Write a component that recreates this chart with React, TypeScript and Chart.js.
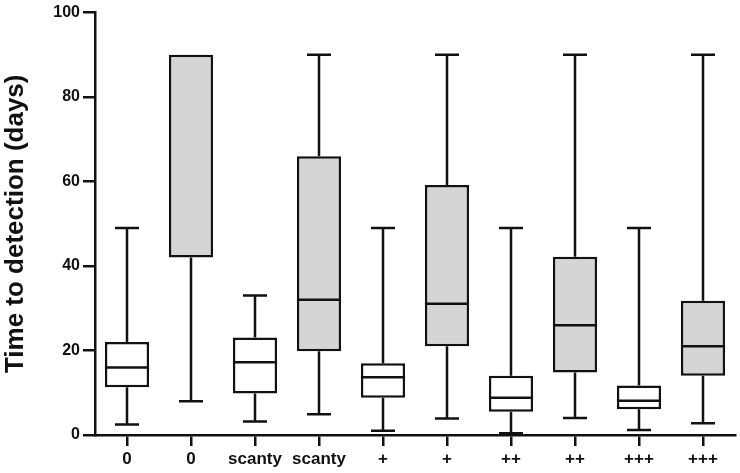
import React, { useEffect, useRef } from "react";
import { Chart, registerables } from "chart.js";

Chart.register(...registerables);

const categories = ["0", "0", "scanty", "scanty", "+", "+", "++", "++", "+++", "+++"];
const whiskerMin = [2.5, 8, 3.2, 4.9, 1.0, 3.9, 0.4, 4.0, 1.2, 2.8];
const q1Values = [11.3, 42, 9.8, 19.8, 8.8, 21, 5.5, 14.8, 6.1, 14.0];
const medianValues = [16, 90, 17.2, 32, 13.7, 31.1, 8.8, 26, 8.1, 21];
const q3Values = [22, 90, 23.1, 66, 17, 59.2, 14, 42.2, 11.7, 31.8];
const whiskerMax = [49, 90, 33, 90, 49, 90, 49, 90, 49, 90];
const boxFill = ["#ffffff", "#d5d5d5", "#ffffff", "#d5d5d5", "#ffffff", "#d5d5d5", "#ffffff", "#d5d5d5", "#ffffff", "#d5d5d5"];
const yTicks = [0, 20, 40, 60, 80, 100];

const FONT = "'Liberation Sans', Arial, sans-serif";
const LW = 2.5;

const boxPlugin = {
  id: "boxWhiskers",
  beforeDatasetsDraw(chart: any) {
    const { ctx, scales } = chart;
    const y = scales.y;
    const meta = chart.getDatasetMeta(0);
    ctx.save();
    ctx.strokeStyle = "#111";
    ctx.lineWidth = LW;
    meta.data.forEach((bar: any, i: number) => {
      const cx = Math.round(bar.x);
      const half = 12;
      const yMax = y.getPixelForValue(whiskerMax[i]);
      const yQ3 = y.getPixelForValue(q3Values[i]);
      const yQ1 = y.getPixelForValue(q1Values[i]);
      const yMin = y.getPixelForValue(whiskerMin[i]);
      ctx.beginPath();
      ctx.moveTo(cx, yQ3);
      ctx.lineTo(cx, yMax);
      ctx.moveTo(cx, yQ1);
      ctx.lineTo(cx, yMin);
      if (whiskerMax[i] > q3Values[i]) {
        ctx.moveTo(cx - half, yMax);
        ctx.lineTo(cx + half, yMax);
      }
      ctx.moveTo(cx - half, yMin);
      ctx.lineTo(cx + half, yMin);
      ctx.stroke();
    });
    ctx.restore();
  },
  afterDatasetsDraw(chart: any) {
    const { ctx, scales } = chart;
    const y = scales.y;
    const meta = chart.getDatasetMeta(0);
    ctx.save();
    ctx.strokeStyle = "#111";
    ctx.lineWidth = LW;
    meta.data.forEach((bar: any, i: number) => {
      if (medianValues[i] >= q3Values[i]) return;
      const w = bar.width;
      const ym = y.getPixelForValue(medianValues[i]);
      ctx.beginPath();
      ctx.moveTo(bar.x - w / 2, ym);
      ctx.lineTo(bar.x + w / 2, ym);
      ctx.stroke();
    });
    ctx.restore();
  },
};

export default function App() {
  const ref = useRef<HTMLCanvasElement | null>(null);
  useEffect(() => {
    if (!ref.current) return;
    const chart = new Chart(ref.current, {
      type: "bar",
      data: {
        labels: categories,
        datasets: [
          {
            data: q1Values.map((q, i) => [q, q3Values[i]]) as any,
            backgroundColor: boxFill,
            borderColor: "#111",
            borderWidth: LW,
            borderSkipped: false,
            barPercentage: 0.69,
            categoryPercentage: 1,
          },
        ],
      },
      options: {
        animation: false,
        responsive: true,
        maintainAspectRatio: false,
        layout: { padding: { top: 12, right: 5, left: 0, bottom: 0 } },
        plugins: { legend: { display: false }, tooltip: { enabled: false } },
        scales: {
          x: {
            type: "category",
            offset: true,
            grid: { display: true, drawOnChartArea: false, offset: false, drawTicks: true, tickLength: 11, color: "#111", lineWidth: 2.5 },
            border: { display: true, color: "#111", width: 2.5 },
            ticks: { color: "#111", font: { family: FONT, size: 17, weight: "bold" }, padding: 3, maxRotation: 0, autoSkip: false },
            afterFit: (s: any) => { s.height = 38; },
          },
          y: {
            min: 0,
            max: 100,
            afterBuildTicks: (s: any) => { s.ticks = yTicks.map((v) => ({ value: v })); },
            grid: { display: true, drawOnChartArea: false, drawTicks: true, tickLength: 12, color: "#111", lineWidth: 2.5 },
            border: { display: true, color: "#111", width: 2.5 },
            ticks: { color: "#111", font: { family: FONT, size: 16, weight: "bold" }, padding: 3 },
            title: { display: true, text: "Time to detection (days)", color: "#111", font: { family: FONT, size: 26, weight: "bold" }, padding: { top: 0, bottom: 4 } },
            afterFit: (s: any) => { s.width = 95; },
          },
        },
      },
      plugins: [boxPlugin],
    });
    return () => chart.destroy();
  }, []);
  return (
    <div style={{ position: "fixed", left: 0, top: 0, width: 740, height: 473, background: "#fff" }}>
      <canvas ref={ref} />
    </div>
  );
}
